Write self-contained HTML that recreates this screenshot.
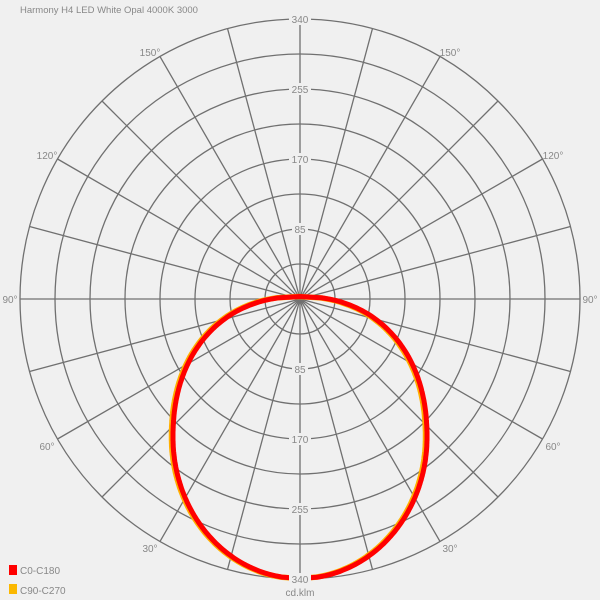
<!DOCTYPE html>
<html><head><style>body{margin:0;background:#f0f0f0}svg{display:block}text{font-family:"Liberation Sans",sans-serif;font-size:10px;fill:#888}</style></head>
<body>
<svg width="600" height="600" viewBox="0 0 600 600">
<rect width="600" height="600" fill="#f0f0f0"/>
<g id="g" stroke="#707070" stroke-width="1.3" fill="none"></g>
<path id="c2" fill="none" stroke="#ffb000" stroke-width="5.5"/>
<path id="c1" fill="none" stroke="#ff0000" stroke-width="5"/>
<g id="lab"></g>
<text x="20" y="13" style="font-size:9.5px">Harmony H4 LED White Opal 4000K 3000</text>
<rect x="9" y="565" width="8" height="10" fill="#f00"/>
<text x="20" y="574">C0-C180</text>
<rect x="9" y="584" width="8" height="10" fill="#fbb800"/>
<text x="20" y="594">C90-C270</text>
<text x="300" y="596" text-anchor="middle">cd.klm</text>
</svg>
<script>
var cx=300,cy=299,R=280,ns="http://www.w3.org/2000/svg",g=document.getElementById('g'),lab=document.getElementById('lab');
function el(t,a,p){var e=document.createElementNS(ns,t);for(var k in a)e.setAttribute(k,a[k]);(p||g).appendChild(e);return e;}
for(var i=1;i<=8;i++)el('circle',{cx:cx,cy:cy,r:R*i/8});
for(var a=0;a<180;a+=15){var t=a*Math.PI/180;el('line',{x1:cx-R*Math.sin(t),y1:cy-R*Math.cos(t),x2:cx+R*Math.sin(t),y2:cy+R*Math.cos(t)});}
function lb(x,y,s){var w=s.length*6+4;el('rect',{x:x-w/2,y:y-6,width:w,height:12,fill:'#f0f0f0'},lab);var t=el('text',{x:x,y:y+4,'text-anchor':'middle'},lab);t.textContent=s;}
[[85,1],[170,2],[255,3],[340,4]].forEach(function(v){lb(cx,cy-R*v[1]/4,''+v[0]);lb(cx,cy+R*v[1]/4,''+v[0]);});
[[150,52,'150°'],[47,155,'120°'],[10,299,'90°'],[47,446,'60°'],[150,548,'30°']].forEach(function(v){
var t1=el('text',{x:v[0],y:v[1]+4,'text-anchor':'middle'},lab);t1.textContent=v[2];var t2=el('text',{x:600-v[0],y:v[1]+4,'text-anchor':'middle'},lab);t2.textContent=v[2];});
function shape(ox){var yc=437.5,ry=141,rx=127,L=[],R2=[];
for(var i=0;i<=200;i++){var dy=-ry+i*2*ry/200,u=Math.abs(dy/ry),x;
 if(dy<0)x=rx*Math.pow(Math.max(0,1-Math.pow(u,2.2)),1/2.2);else x=rx*Math.sqrt(Math.max(0,1-u*u));
 R2.push([cx+ox+x,yc+dy]);L.push([cx+ox-x,yc+dy]);}
var d='M'+R2.map(function(p){return p[0].toFixed(1)+','+p[1].toFixed(1)}).join('L');
d+='L'+L.reverse().map(function(p){return p[0].toFixed(1)+','+p[1].toFixed(1)}).join('L')+'Z';return d;}
document.getElementById('c2').setAttribute('d',shape(-1.5));
document.getElementById('c1').setAttribute('d',shape(0));
</script>
</body></html>
